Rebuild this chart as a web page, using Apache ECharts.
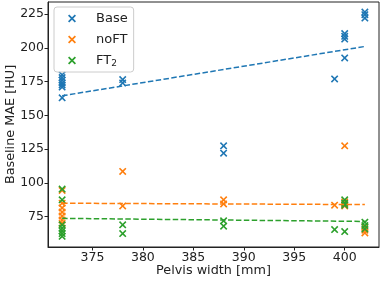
<!DOCTYPE html>
<html><head><meta charset="utf-8">
<script src="https://cdn.jsdelivr.net/npm/echarts@6/dist/echarts.min.js"></script>
<style>html,body{margin:0;padding:0;background:#fff}#c{width:380px;height:282px}</style>
</head><body><div id="c"></div>
<script>
const xTicks = [375, 380, 385, 390, 395, 400];
const yTicks = [75, 100, 125, 150, 175, 200, 225];
const seriesNames = ['Base', 'noFT', 'FT2'];
const colors = ['#1f77b4', '#ff7f0e', '#2ca02c'];

const baseData = [[372,180],[372,178],[372,176],[372,174],[372,172.5],[372,171],[372,163],
  [378,176.5],[378,174],[388,127.5],[388,122],[399,177],
  [400,210.5],[400,208.5],[400,206.5],[400,192.5],[402,226.5],[402,224.5],[402,222]];
const noFTData = [[372,94.5],[372,85],[372,81.5],[372,78.5],[372,75.5],[372,72.5],[372,70],
  [378,108.5],[378,83],[388,87.5],[388,84.5],[399,83.5],
  [400,127.5],[400,86],[400,84.5],[400,83],[402,67.5],[402,65],[402,63]];
const ft2Data = [[372,95.5],[372,87.5],[372,69],[372,66.5],[372,64.5],[372,62.5],[372,60.5],
  [378,69],[378,62.5],[388,72],[388,68],[399,65.5],
  [400,87.5],[400,85],[400,83.5],[400,64],[402,71],[402,68.5],[402,66]];

const baseFit = [[372,164.5],[402,201]];
const noFTFit = [[372,85],[402,84]];
const ft2Fit = [[372,73.8],[402,71.5]];

const XSYM = 'path://M0,0.15L0.15,0L0.5,0.35L0.85,0L1,0.15L0.65,0.5L1,0.85L0.85,1L0.5,0.65L0.15,1L0,0.85L0.35,0.5Z';
const FONT = 'DejaVu Sans';

const chart = echarts.init(document.getElementById('c'), null, {renderer: 'canvas'});
const scatterData = [baseData, noFTData, ft2Data];
const fitData = [baseFit, noFTFit, ft2Fit];
const series = [];
seriesNames.forEach((n, i) => {
  series.push({
    name: n, type: 'scatter', data: scatterData[i], symbol: XSYM, symbolSize: 7.5,
    itemStyle: {color: colors[i], opacity: 1}, z: 2, silent: true
  });
});
seriesNames.forEach((n, i) => {
  series.push({
    name: n + '_fit', type: 'line', data: fitData[i], showSymbol: false, symbol: 'none',
    lineStyle: {color: colors[i], width: 1.5, type: [5.5, 2.4]}, z: 3, silent: true
  });
});

chart.setOption({
  animation: false,
  textStyle: {fontFamily: FONT},
  grid: {left: 48, right: 1, top: 2, bottom: 35, show: true, borderColor: '#222', borderWidth: 1,
    containLabel: false, outerBoundsMode: 'none'},
  xAxis: {
    type: 'value', min: 370.6, max: 403.4,
    axisLine: {show: true, onZero: false, lineStyle: {color: '#222', width: 1}},
    axisTick: {show: true, length: 3.5, customValues: xTicks, lineStyle: {color: '#222'}},
    axisLabel: {customValues: xTicks, fontSize: 12.5, color: '#222', margin: 4, fontFamily: FONT},
    splitLine: {show: false},
    name: 'Pelvis width [mm]', nameLocation: 'middle', nameGap: 17, nameMoveOverlap: false,
    nameTextStyle: {fontSize: 12.8, color: '#222', fontFamily: FONT}
  },
  yAxis: {
    type: 'value', min: 52.6, max: 233.9,
    axisLine: {show: true, onZero: false, lineStyle: {color: '#222', width: 1}},
    axisTick: {show: true, length: 3.5, customValues: yTicks, lineStyle: {color: '#222'}},
    axisLabel: {customValues: yTicks, fontSize: 12.5, color: '#222', margin: 4, fontFamily: FONT},
    splitLine: {show: false},
    name: 'Baseline MAE [HU]', nameLocation: 'middle', nameGap: 31, nameRotate: 90, nameMoveOverlap: false,
    nameTextStyle: {fontSize: 12.8, color: '#222', fontFamily: FONT}
  },
  legend: {
    orient: 'vertical', left: 54, top: 7,
    padding: [5, 6, 4, 14], itemGap: 8, itemWidth: 8, itemHeight: 8,
    backgroundColor: 'rgba(255,255,255,0.8)', borderColor: '#ccc', borderWidth: 1, borderRadius: 3,
    data: seriesNames.map(n => ({name: n, icon: XSYM})),
    formatter: n => n === 'FT2' ? '{n|FT}{s|2}' : '{n|' + n + '}',
    textStyle: {
      fontFamily: FONT, color: '#222', fontSize: 13,
      rich: {
        n: {fontFamily: FONT, color: '#222', fontSize: 13, lineHeight: 15, padding: [0, 0, 0, 15]},
        s: {fontFamily: FONT, color: '#222', fontSize: 9, lineHeight: 15, verticalAlign: 'bottom', padding: [5, 0, 0, 0]}
      }
    },
    selectedMode: false
  },
  series: series
});
</script></body></html>
